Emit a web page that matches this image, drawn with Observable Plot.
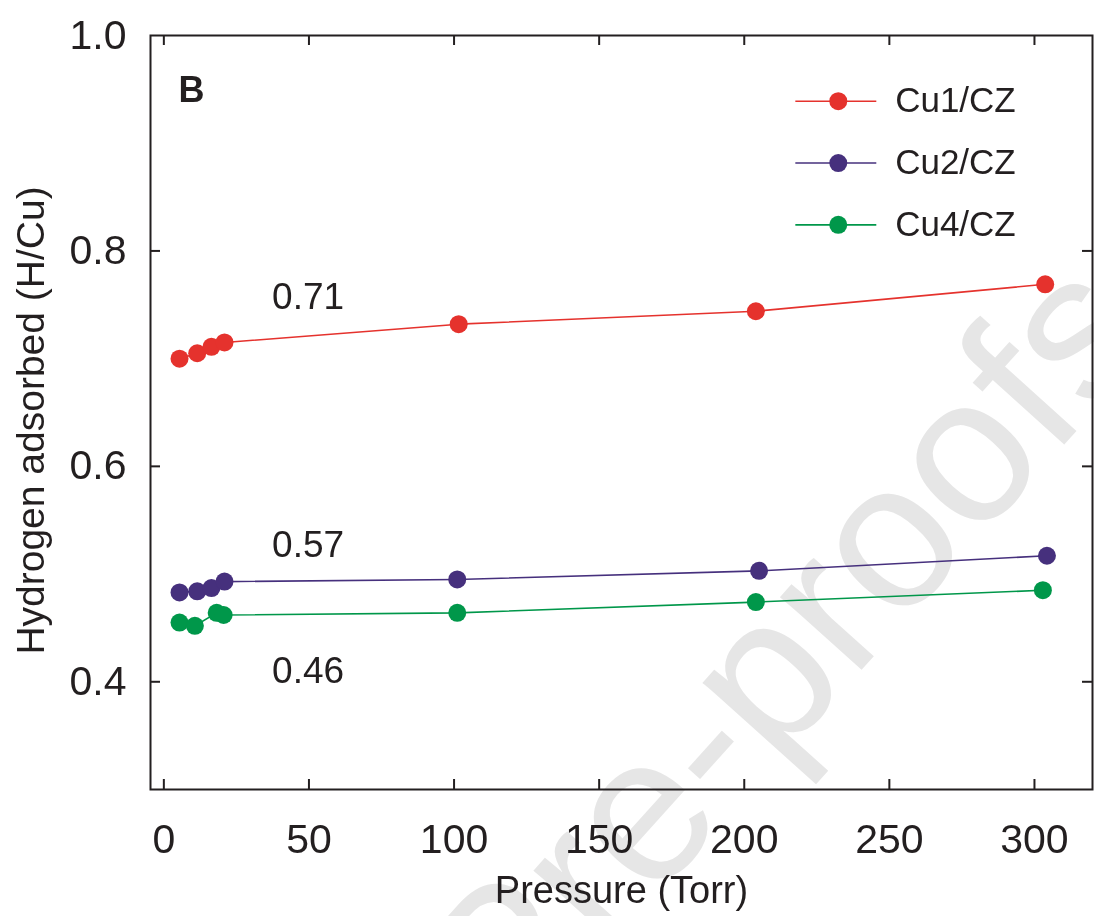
<!DOCTYPE html>
<html>
<head>
<meta charset="utf-8">
<script src="https://cdn.jsdelivr.net/npm/d3@7"></script>
<script src="https://cdn.jsdelivr.net/npm/@observablehq/plot@0.6"></script>
<style>
  html, body { margin: 0; padding: 0; background: #fff; overflow: hidden; }
  #chart { width: 1094px; height: 916px; }
</style>
</head>
<body>
<div id="chart"></div>
<script>
// ---- data ----
const seriesNames = ["Cu1/CZ", "Cu2/CZ", "Cu4/CZ"];
const seriesColors = ["#e5322d", "#46307d", "#00974a"];

const pressureCu1 = [5.4, 11.5, 16.4, 20.9, 101.6, 204.0, 303.7];
const valuesCu1   = [0.700, 0.705, 0.711, 0.715, 0.732, 0.744, 0.769];

const pressureCu2 = [5.4, 11.5, 16.4, 20.9, 101.1, 205.1, 304.3];
const valuesCu2   = [0.483, 0.484, 0.487, 0.493, 0.495, 0.503, 0.517];

const pressureCu4 = [5.4, 10.7, 18.2, 20.6, 101.1, 204.0, 302.9];
const valuesCu4   = [0.455, 0.452, 0.464, 0.462, 0.464, 0.474, 0.485];

const annotationTexts = ["0.71", "0.57", "0.46"];
const annotationX = [37.3, 37.3, 37.3];
const annotationY = [0.746, 0.516, 0.399];

const xTicks = [0, 50, 100, 150, 200, 250, 300];
const yTickLabels = [0.4, 0.6, 0.8, 1.0];
const yTickMarks = [0.4, 0.6, 0.8];

// ---- build table ----
const pressures = [pressureCu1, pressureCu2, pressureCu4];
const values = [valuesCu1, valuesCu2, valuesCu4];
const data = seriesNames.flatMap((s, k) =>
  pressures[k].map((p, i) => ({series: s, pressure: p, h: values[k][i]})));
const annotations = annotationTexts.map((t, i) => ({t, x: annotationX[i], y: annotationY[i]}));

// ---- layout ----
const W = 1094, H = 916;
const mL = 150, mR = 2, mT = 35, mB = 127;
const frameW = W - mL - mR, frameH = H - mT - mB;
const tick = 10;
const ink = "#231f20";
const font = "'Liberation Sans', Arial, Helvetica, sans-serif";

// legend layout (in data units of the frame)
const legX1 = 217.6, legX2 = 245.5, legDot = 232.4, legText = 252;
const legY0 = 0.939, legStep = 0.0574;
const legend = seriesNames.map((s, i) => ({series: s, y: legY0 - i * legStep}));

const plot = Plot.plot({
  width: W,
  height: H,
  marginLeft: mL, marginRight: mR, marginTop: mT, marginBottom: mB,
  style: {fontFamily: font, fontSize: "41px", color: ink, background: "#fff"},
  x: {domain: [-4.6, 320], ticks: xTicks, tickSize: 0, tickPadding: 34, label: null},
  y: {domain: [0.3, 1.0], ticks: yTickLabels, tickSize: 0, tickPadding: 24,
      tickFormat: d => d.toFixed(1), label: null},
  color: {domain: seriesNames, range: seriesColors},
  marks: [
    // watermark (multiply so it never hides anything beneath)
    Plot.text(["Pre-proofs"], {frameAnchor: "top-left", dx: 686, dy: 662, rotate: -48,
      text: d => d, fontSize: 207, fill: "#e6e6e6", textAnchor: "middle", lineAnchor: "bottom",
      mixBlendMode: "multiply"}),
    Plot.frame({stroke: ink, strokeWidth: 2}),
    // inward ticks
    Plot.ruleX(xTicks, {x: d => d, insetTop: frameH - tick, stroke: ink, strokeWidth: 2}),
    Plot.ruleX(xTicks, {x: d => d, insetBottom: frameH - tick, stroke: ink, strokeWidth: 2}),
    Plot.ruleY(yTickMarks, {y: d => d, insetRight: frameW - tick, stroke: ink, strokeWidth: 2}),
    Plot.ruleY(yTickMarks, {y: d => d, insetLeft: frameW - tick, stroke: ink, strokeWidth: 2}),
    // series
    Plot.line(data, {x: "pressure", y: "h", z: "series", stroke: "series", strokeWidth: 1.6}),
    Plot.dot(data, {x: "pressure", y: "h", fill: "series", r: 9}),
    // annotations
    Plot.text(annotations, {x: "x", y: "y", text: "t", fontSize: 37, fill: ink,
      textAnchor: "start", lineAnchor: "bottom"}),
    // panel letter
    Plot.text(["B"], {frameAnchor: "top-left", dx: 28, dy: 66, text: d => d, fontSize: 36,
      fontWeight: "bold", fill: ink, textAnchor: "start", lineAnchor: "bottom"}),
    // legend
    Plot.link(legend, {x1: () => legX1, x2: () => legX2, y1: "y", y2: "y", stroke: "series", strokeWidth: 1.6}),
    Plot.dot(legend, {x: () => legDot, y: "y", fill: "series", r: 9}),
    Plot.text(legend, {x: () => legText, y: "y", text: "series", fontSize: 35, fill: ink,
      textAnchor: "start", lineAnchor: "middle"}),
    // axis titles
    Plot.text(["Pressure (Torr)"], {frameAnchor: "bottom", dy: 113, text: d => d, fontSize: 38,
      fill: ink, textAnchor: "middle", lineAnchor: "bottom"}),
    Plot.text(["Hydrogen adsorbed (H/Cu)"], {frameAnchor: "left", dx: -107, dy: 8, rotate: -90,
      text: d => d, fontSize: 39, fill: ink, textAnchor: "middle", lineAnchor: "bottom"})
  ]
});
document.getElementById("chart").appendChild(plot);
</script>
</body>
</html>
